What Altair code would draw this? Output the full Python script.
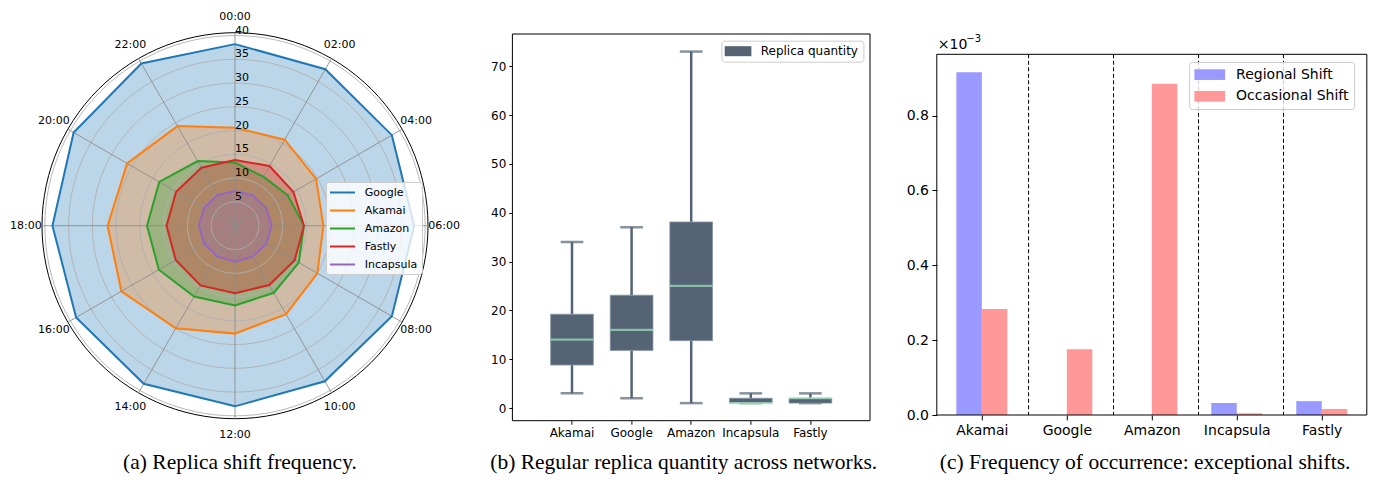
import math
import altair as alt
import pandas as pd

FONT = "DejaVu Sans"
SERIF = "Liberation Serif"

# ---------------- data ----------------
hours = ["00:00", "02:00", "04:00", "06:00", "08:00", "10:00",
         "12:00", "14:00", "16:00", "18:00", "20:00", "22:00"]
series_names = ["Google", "Akamai", "Amazon", "Fastly", "Incapsula"]
series_colors = ["#1f77b4", "#ff7f0e", "#2ca02c", "#d62728", "#9467bd"]
google = [38.2, 38.0, 38.1, 37.7, 38.1, 37.8, 38.0, 38.4, 38.6, 38.4, 39.2, 39.4]
akamai = [20.6, 20.9, 19.7, 18.6, 20.0, 21.5, 22.7, 24.9, 27.6, 26.8, 26.2, 24.2]
amazon = [13.3, 11.9, 12.8, 14.5, 15.5, 16.3, 16.8, 17.2, 18.5, 18.5, 18.4, 15.7]
fastly = [13.8, 14.5, 14.2, 14.5, 14.5, 14.4, 14.2, 14.5, 14.4, 14.4, 14.3, 14.1]
incapsula = [7.3, 7.4, 7.5, 7.7, 7.6, 7.5, 7.6, 7.5, 7.5, 7.6, 7.5, 7.4]
ring_values = [5, 10, 15, 20, 25, 30, 35, 40]

cdns = ["Akamai", "Google", "Amazon", "Incapsula", "Fastly"]
box_low = [3, 2, 1, 1, 1]
box_q1 = [8.8, 11.8, 13.8, 1, 1]
box_med = [14, 16, 25, 1, 2]
box_q3 = [19.2, 23.1, 38.1, 2, 2]
box_high = [34, 37, 73, 3, 3]
box_ticks = [0, 10, 20, 30, 40, 50, 60, 70]
box_label = "Replica quantity"

shift_types = ["Regional Shift", "Occasional Shift"]
shift_colors = ["#9999ff", "#ff9999"]
regional = [0.916, 0.0, 0.0, 0.032, 0.037]
occasional = [0.283, 0.176, 0.885, 0.0045, 0.016]
shift_ticks = [0.0, 0.2, 0.4, 0.6, 0.8]
separators = [0.55, 1.55, 2.55, 3.55]

captions = ["(a) Replica shift frequency.",
            "(b) Regular replica quantity across networks.",
            "(c) Frequency of occurrence: exceptional shifts."]

# ---------------- layout ----------------
WA, HA = 437.3, 420
WB, HB = 357.6, 412.7
WC, HC = 430.0, 407.0
SPACING = 66.4
CAP_Y = 455
CAP_SIZE = 21.5

one = pd.DataFrame({"k": [0]})


def caption(txt, xpos):
    return alt.Chart(one).mark_text(
        font=SERIF, fontSize=CAP_SIZE, color="#000000", align="center", baseline="middle"
    ).encode(x=alt.value(xpos), y=alt.value(CAP_Y), text=alt.value(txt))


# ---------------- panel (a) radar ----------------
RMAX = 40.6
R_PX = 193.0
CX, CY = 227.0, 217.7
xs = alt.Scale(domain=[-RMAX, RMAX], range=[CX - R_PX, CX + R_PX], nice=False, zero=False)
ys = alt.Scale(domain=[-RMAX, RMAX], range=[CY + R_PX, CY - R_PX], nice=False, zero=False)

rows = []
for s, vals in zip(series_names, [google, akamai, amazon, fastly, incapsula]):
    for k in range(13):
        rows.append({"series": s, "idx": k, "value": vals[k % 12]})
radar_df = pd.DataFrame(rows)

radar_base = alt.Chart(radar_df).transform_calculate(
    ang="datum.idx * PI / 6",
    px="datum.value * sin(datum.ang)",
    py="datum.value * cos(datum.ang)",
)
stroke_scale = alt.Scale(domain=series_names, range=series_colors)
legend_a = alt.Legend(
    title=None, orient="none", legendX=318, legendY=174,
    symbolType="M-2.273,0H2.273", symbolSize=121, symbolStrokeWidth=2,
    labelFontSize=11, labelFont=FONT, labelColor="#000000",
    padding=4, rowPadding=6, symbolOffset=6, labelOffset=15.7,
    fillColor="rgba(255,255,255,0.8)", strokeColor="#cccccc", cornerRadius=3,
)

XA = lambda f: alt.X(f, scale=xs, axis=None)
YA = lambda f: alt.Y(f, scale=ys, axis=None)

fills, lines = [], []
for s, c in zip(series_names, series_colors):
    b = radar_base.transform_filter(alt.datum.series == s)
    fills.append(
        b.mark_line(fill=c, fillOpacity=0.3, strokeOpacity=0).encode(
            x=XA("px:Q"), y=YA("py:Q"), order="idx:Q")
    )
    lines.append(
        b.mark_line(strokeWidth=2).encode(
            x=XA("px:Q"), y=YA("py:Q"), order="idx:Q",
            stroke=alt.Stroke("series:N", scale=stroke_scale, legend=legend_a),
        )
    )

ring_df = pd.DataFrame({"r": ring_values})


def circle_layer(df, rexpr, color, width):
    return alt.Chart(df).transform_calculate(
        rr=rexpr, angs="sequence(0, 363, 3)"
    ).transform_flatten(["angs"]).transform_calculate(
        cxv="datum.rr * sin(datum.angs * PI / 180)",
        cyv="datum.rr * cos(datum.angs * PI / 180)",
    ).mark_line(color=color, strokeWidth=width).encode(
        x=XA("cxv:Q"), y=YA("cyv:Q"), detail="rr:Q", order="angs:Q"
    )


rings = circle_layer(ring_df, "datum.r", "#b0b0b0", 0.9)
frame_a = circle_layer(one, str(RMAX), "#000000", 1)

spoke_df = pd.DataFrame({"h": hours, "k": list(range(12))})
spokes = alt.Chart(spoke_df).transform_calculate(
    z="0",
    ex=f"{RMAX} * sin(datum.k * PI / 6)",
    ey=f"{RMAX} * cos(datum.k * PI / 6)",
).mark_rule(color="#8c8c8c", strokeWidth=0.9).encode(
    x=XA("z:Q"), y=YA("z:Q"), x2="ex:Q", y2="ey:Q",
)
hour_text = alt.Chart(spoke_df).transform_calculate(
    tx="44 * sin(datum.k * PI / 6)",
    ty="44 * cos(datum.k * PI / 6)",
).mark_text(font=FONT, fontSize=11, color="#000000", align="center", baseline="middle").encode(
    x=XA("tx:Q"), y=YA("ty:Q"), text="h:N"
)
rad_text = alt.Chart(ring_df).transform_calculate(z="0").mark_text(
    font=FONT, fontSize=11, color="#000000", align="left", baseline="bottom"
).encode(x=XA("z:Q"), y=YA("r:Q"), text="r:Q")
panel_a = alt.layer(*fills, rings, frame_a, spokes, *lines, hour_text, rad_text,
                    caption(captions[0], 232)).properties(width=WA, height=HA)

# ---------------- panel (b) box plot ----------------
BOX_COLOR = "#546474"
MED_COLOR = "#a3e4c1"
box_df = pd.DataFrame({"cdn": cdns, "low": box_low, "q1": box_q1, "med": box_med,
                       "q3": box_q3, "high": box_high})
axis_xb = alt.Axis(title=None, labelAngle=0, labelFont=FONT, labelFontSize=12, labelColor="#000000",
                   tickColor="#000000", tickSize=3.5, labelPadding=3, domain=False, grid=False)
axis_yb = alt.Axis(title=None, values=box_ticks, labelFont=FONT, labelFontSize=12, labelColor="#000000",
                   tickColor="#000000", tickSize=3.5, labelPadding=3, domain=False, grid=False)
xb = alt.X("cdn:N", sort=cdns, scale=alt.Scale(type="band", domain=cdns, paddingInner=0, paddingOuter=0.5), axis=axis_xb)
yscale_b = alt.Scale(domain=[-2.6, 76.6], range=[HB, 26], nice=False, zero=False)

bb = alt.Chart(box_df)
whisk_lo = bb.mark_rule(color=BOX_COLOR, strokeWidth=2.5).encode(
    x=xb, y=alt.Y("low:Q", scale=yscale_b, axis=axis_yb), y2="q1:Q")
whisk_hi = bb.mark_rule(color=BOX_COLOR, strokeWidth=2.5).encode(
    x=xb, y=alt.Y("q3:Q", scale=yscale_b, axis=axis_yb), y2="high:Q")
cap_lo = bb.mark_tick(color=BOX_COLOR, size=22.7, thickness=2.5).encode(
    x=xb, y=alt.Y("low:Q", scale=yscale_b, axis=axis_yb))
cap_hi = bb.mark_tick(color=BOX_COLOR, size=22.7, thickness=2.5).encode(
    x=xb, y=alt.Y("high:Q", scale=yscale_b, axis=axis_yb))
legend_b = alt.Legend(
    title=None, orient="none", legendX=209, legendY=32.7,
    symbolType="M-2.225,-0.833H2.225V0.833H-2.225Z", symbolSize=144, symbolStrokeWidth=0,
    labelFontSize=12, labelFont=FONT, labelColor="#000000",
    padding=4.5, symbolOffset=6.15, labelOffset=16.65,
    fillColor="rgba(255,255,255,0.8)", strokeColor="#cccccc", cornerRadius=3,
)
boxes = bb.transform_calculate(lbl=f"'{box_label}'").mark_bar(
    width=42.7, stroke="#8795a3", strokeWidth=0.8
).encode(
    x=xb, y=alt.Y("q1:Q", scale=yscale_b, axis=axis_yb), y2="q3:Q",
    fill=alt.Fill("lbl:N", scale=alt.Scale(domain=[box_label], range=[BOX_COLOR]), legend=legend_b),
)
medians = bb.mark_tick(color=MED_COLOR, size=42.7, thickness=2.2).encode(
    x=xb, y=alt.Y("med:Q", scale=yscale_b, axis=axis_yb))
frame_b = alt.Chart(one).mark_rect(fillOpacity=0, stroke="#000000", strokeWidth=1).encode(
    x=alt.value(0), x2=alt.value(WB), y=alt.value(26), y2=alt.value(HB))
panel_b = alt.layer(whisk_lo, whisk_hi, cap_lo, cap_hi, boxes, medians, frame_b,
                    caption(captions[1], 171.3)).properties(width=WB, height=HB)

# ---------------- panel (c) grouped bars ----------------
bar_rows = []
for i, c in enumerate(cdns):
    bar_rows.append({"idx": i, "type": shift_types[0], "v": regional[i]})
    bar_rows.append({"idx": i, "type": shift_types[1], "v": occasional[i]})
bar_df = pd.DataFrame(bar_rows)

label_expr = "[" + ",".join(f"'{c}'" for c in cdns) + "][datum.value]"
xscale_c = alt.Scale(domain=[-0.53, 4.53], nice=False, zero=False)
yscale_c = alt.Scale(domain=[0, 0.964], range=[HC, 46.3], nice=False, zero=False)
axis_xc = alt.Axis(title=None, values=list(range(len(cdns))), labelExpr=label_expr, labelFont=FONT,
                   labelFontSize=14, labelColor="#000000", tickColor="#000000", tickSize=4.9,
                   labelPadding=3.5, domain=False, grid=False)
axis_yc = alt.Axis(title=None, values=shift_ticks, format=".1f", labelFont=FONT, labelFontSize=14,
                   labelColor="#000000", tickColor="#000000", tickSize=4.9, labelPadding=3.5,
                   domain=False, grid=False)
legend_c = alt.Legend(
    title=None, orient="none", legendX=252.3, legendY=54,
    symbolType="M-2.193,-0.764H2.193V0.764H-2.193Z", symbolSize=196, symbolStrokeWidth=0,
    labelFontSize=14, labelFont=FONT, labelColor="#000000",
    padding=5.6, rowPadding=7.7, symbolOffset=8.05, labelOffset=19.35,
    fillColor="rgba(255,255,255,0.8)", strokeColor="#cccccc", cornerRadius=3,
)
bars = alt.Chart(bar_df).transform_calculate(
    x0=f"datum.idx + (datum.type == '{shift_types[0]}' ? -0.3 : 0)",
    x1=f"datum.idx + (datum.type == '{shift_types[0]}' ? 0 : 0.3)",
    base="0",
).mark_rect().encode(
    x=alt.X("x0:Q", scale=xscale_c, axis=axis_xc), x2="x1:Q",
    y=alt.Y("v:Q", scale=yscale_c, axis=axis_yc), y2="base:Q",
    fill=alt.Fill("type:N", scale=alt.Scale(domain=shift_types, range=shift_colors), legend=legend_c),
)
sep_df = pd.DataFrame({"s": separators})
seps = alt.Chart(sep_df).mark_rule(color="#000000", strokeWidth=1, strokeDash=[4, 2.5]).encode(
    x=alt.X("s:Q", scale=xscale_c, axis=axis_xc), y=alt.value(46.3), y2=alt.value(HC))
frame_c = alt.Chart(one).mark_rect(fillOpacity=0, stroke="#000000", strokeWidth=1).encode(
    x=alt.value(0), x2=alt.value(WC), y=alt.value(46.3), y2=alt.value(HC))
exp_base = alt.Chart(one).mark_text(font=FONT, fontSize=14, color="#000000", align="left", baseline="middle").encode(
    x=alt.value(1), y=alt.value(36.7), text=alt.value("×10"))
exp_sup = alt.Chart(one).mark_text(font=FONT, fontSize=10, color="#000000", align="left", baseline="middle").encode(
    x=alt.value(29.5), y=alt.value(31.0), text=alt.value("−3"))
panel_c = alt.layer(seps, bars, frame_c, exp_base, exp_sup,
                    caption(captions[2], 208.3)).properties(width=WC, height=HC)

chart = alt.hconcat(panel_a, panel_b, panel_c, spacing=SPACING, bounds="flush").resolve_scale(
    x="independent", y="independent", fill="independent", stroke="independent"
).resolve_legend(fill="independent", stroke="independent").properties(
    padding=0
).configure_view(strokeWidth=0)

chart.save("out.html", embed_options={"renderer": "svg", "actions": False})
